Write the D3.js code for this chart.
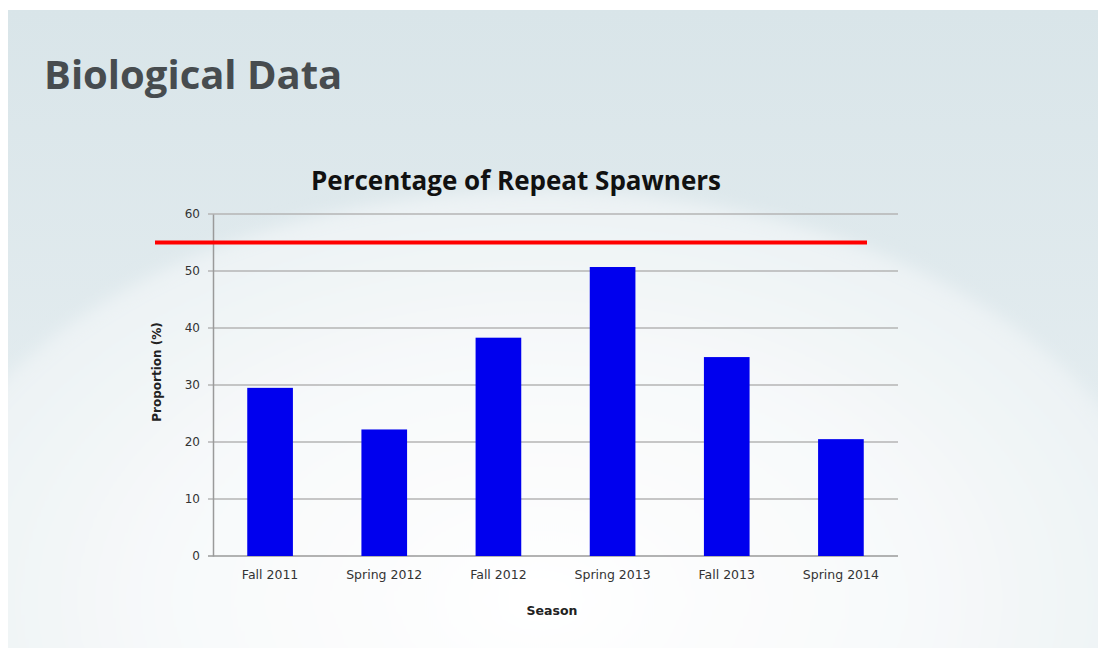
<!DOCTYPE html>
<html>
<head>
<meta charset="utf-8">
<script src="https://cdn.jsdelivr.net/npm/d3@7"></script>
<style>
  body { margin: 0; background: #fff; }
  text { font-family: "DejaVu Sans", Verdana, sans-serif; }
</style>
</head>
<body>
<div class="canvas"></div>
<script>
// chart data
const seasons = ["Fall 2011", "Spring 2012", "Fall 2012", "Spring 2013", "Fall 2013", "Spring 2014"];
const repeatPct = [29.5, 22.2, 38.3, 50.7, 34.9, 20.5];
const yTicks = [0, 10, 20, 30, 40, 50, 60];
const targetLevel = 55;

const width = 1098;
const height = 648;
const margin = { top: 214, right: 200, bottom: 92, left: 213 };
const graphWidth = width - margin.left - margin.right;
const graphHeight = height - margin.top - margin.bottom;

const svg = d3
  .select(".canvas")
  .append("svg")
  .attr("width", width)
  .attr("height", height);

// slide background: bluish base with a big pale ellipse in the middle
const defs = svg.append("defs");
const base = defs
  .append("linearGradient")
  .attr("id", "base")
  .attr("x1", 0).attr("y1", 0).attr("x2", 0).attr("y2", 1);
base.append("stop").attr("offset", "0%").attr("stop-color", "#d9e5e9");
base.append("stop").attr("offset", "100%").attr("stop-color", "#e9f0f3");

const glow = defs
  .append("radialGradient")
  .attr("id", "glow")
  .attr("cx", 0.5).attr("cy", 0.5).attr("r", 0.5);
glow.append("stop").attr("offset", "0%").attr("stop-color", "#ffffff");
glow.append("stop").attr("offset", "60%").attr("stop-color", "#f7f9fa");
glow.append("stop").attr("offset", "100%").attr("stop-color", "#ecf2f4");

defs
  .append("filter")
  .attr("id", "soft")
  .append("feGaussianBlur")
  .attr("stdDeviation", 8);

defs
  .append("clipPath")
  .attr("id", "slideClip")
  .append("rect")
  .attr("x", 8).attr("y", 10)
  .attr("width", width - 8).attr("height", height - 10);

const slide = svg.append("g").attr("clip-path", "url(#slideClip)");
slide
  .append("rect")
  .attr("x", 8).attr("y", 10)
  .attr("width", width - 8).attr("height", height - 10)
  .attr("fill", "url(#base)");
slide
  .append("ellipse")
  .attr("cx", 540).attr("cy", 600)
  .attr("rx", 635).attr("ry", 410)
  .attr("fill", "url(#glow)")
  .attr("filter", "url(#soft)");

svg
  .append("text")
  .attr("x", 44)
  .attr("y", 89)
  .attr("font-size", 40)
  .attr("font-weight", "bold")
  .attr("fill", "#474c4f")
  .style("font-family", "'Open Sans', sans-serif")
  .text("Biological Data");

const graph = svg
  .append("g")
  .attr("transform", `translate(${margin.left}, ${margin.top})`);

// scales
const x = d3.scaleBand().domain(seasons).range([0, graphWidth]).paddingInner(0.6).paddingOuter(0.3);
const y = d3.scaleLinear().domain([0, 60]).range([graphHeight, 0]);

// gridlines
graph
  .append("g")
  .selectAll("line")
  .data(yTicks)
  .enter()
  .append("line")
  .attr("x1", -5)
  .attr("x2", graphWidth)
  .attr("y1", d => y(d))
  .attr("y2", d => y(d))
  .attr("stroke", d => (d === 0 ? "#9a9a9a" : "#b4b4b4"))
  .attr("stroke-width", 1.5);

// y axis
const yAxis = d3.axisLeft(y).tickValues(yTicks).tickSize(0).tickPadding(13);
const yAxisGroup = graph.append("g").call(yAxis);
yAxisGroup.select(".domain").attr("stroke", "#9a9a9a").attr("stroke-width", 1.5);
yAxisGroup.selectAll("text").attr("font-size", 12).attr("fill", "#333");

// bars
graph
  .selectAll("rect.bar")
  .data(seasons)
  .enter()
  .append("rect")
  .attr("class", "bar")
  .attr("x", d => x(d))
  .attr("width", x.bandwidth())
  .attr("y", (d, i) => y(repeatPct[i]))
  .attr("height", (d, i) => graphHeight - y(repeatPct[i]))
  .attr("fill", "#0000ee");

// x axis
const xAxis = d3.axisBottom(x).tickSize(0).tickPadding(14);
const xAxisGroup = graph
  .append("g")
  .attr("transform", `translate(0, ${graphHeight})`)
  .call(xAxis);
xAxisGroup.select(".domain").remove();
xAxisGroup.selectAll("text").attr("font-size", 12.5).attr("fill", "#333");

// target line
graph
  .append("line")
  .attr("x1", 155 - margin.left)
  .attr("x2", 867 - margin.left)
  .attr("y1", y(targetLevel))
  .attr("y2", y(targetLevel))
  .attr("stroke", "#ff0000")
  .attr("stroke-width", 4);

// titles
svg
  .append("text")
  .attr("x", 516)
  .attr("y", 190)
  .attr("text-anchor", "middle")
  .attr("font-size", 26)
  .attr("font-weight", "bold")
  .attr("fill", "#111")
  .style("font-family", "'Open Sans', sans-serif")
  .text("Percentage of Repeat Spawners");

svg
  .append("text")
  .attr("x", 552)
  .attr("y", 615)
  .attr("text-anchor", "middle")
  .attr("font-size", 12.5)
  .attr("font-weight", "bold")
  .attr("fill", "#222")
  .text("Season");

svg
  .append("text")
  .attr("transform", "translate(161, 372) rotate(-90)")
  .attr("text-anchor", "middle")
  .attr("font-size", 12)
  .attr("font-weight", "bold")
  .attr("fill", "#222")
  .text("Proportion (%)");
</script>
</body>
</html>
